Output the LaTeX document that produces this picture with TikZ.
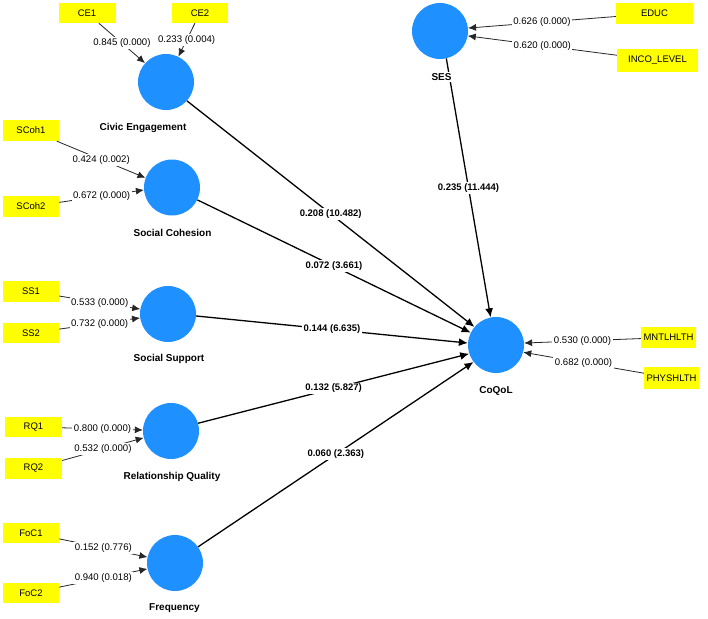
\documentclass[tikz,border=0pt]{standalone}
\usepackage{fontspec}
\setmainfont{Liberation Sans}
\usetikzlibrary{arrows.meta}
\definecolor{lvblue}{HTML}{1E90FF}
\definecolor{indyel}{HTML}{FFFF00}
\begin{document}
\begin{tikzpicture}[x=1pt,y=-1pt,
  lv/.style={circle,fill=lvblue,minimum size=56pt,inner sep=0pt},
  mv/.style={fill=indyel,minimum width=56pt,minimum height=20pt,inner sep=0pt,font=\fontsize{9.5}{11}\selectfont},
  lvlab/.style={font=\bfseries\fontsize{10}{12}\selectfont,fill=white,inner sep=1pt},
  ld/.style={draw=black!85,line width=0.8pt,-{Latex[length=8pt,width=7pt]}},
  pth/.style={draw=black,line width=1.3pt,-{Latex[length=9pt,width=8pt]}},
  ldlab/.style={font=\fontsize{9.6}{11}\selectfont,fill=white,inner sep=1.5pt},
  pthlab/.style={font=\bfseries\fontsize{9.5}{11}\selectfont,fill=white,inner sep=1.5pt}]
\fill[white] (0,0) rectangle (708,618);
\useasboundingbox (0,0) rectangle (708,618);

% latent variables
\node[lv] (ce) at (166,82) {};
\node[lv] (sc) at (172,187.5) {};
\node[lv] (ss) at (168,314) {};
\node[lv] (rq) at (171,431) {};
\node[lv] (fr) at (175,563) {};
\node[lv] (ses) at (440,31) {};
\node[lv] (cq) at (496,345) {};

% indicators
\node[mv,minimum width=57pt] (ce1) at (87,13) {CE1};
\node[mv] (ce2) at (200,13) {CE2};
\node[mv,minimum height=21pt] (sc1) at (31,130.5) {SCoh1};
\node[mv,minimum height=21pt] (sc2) at (31,206.5) {SCoh2};
\node[mv,minimum height=21pt] (ss1) at (31,291.5) {SS1};
\node[mv] (ss2) at (31,333) {SS2};
\node[mv,minimum width=57pt] (rq1) at (33.5,427) {RQ1};
\node[mv,minimum width=57pt,minimum height=21pt] (rq2) at (33.5,468.5) {RQ2};
\node[mv] (fc1) at (31,533) {FoC1};
\node[mv] (fc2) at (31,593) {FoC2};
\node[mv,minimum width=77pt,minimum height=21pt] (educ) at (654.5,13.5) {EDUC};
\node[mv,minimum width=81pt,minimum height=22pt] (inco) at (657.5,60.5) {INCO\_LEVEL};
\node[mv,minimum width=55pt,minimum height=21pt] (mh) at (668.5,337.5) {MNTLHLTH};
\node[mv,minimum width=55pt,minimum height=22pt] (ph) at (671.5,378) {PHYSHLTH};

% outer loadings
\draw[ld] (ce1) -- node[ldlab]{0.845 (0.000)} (ce.138);
\draw[ld] (ce2) -- node[ldlab]{0.233 (0.004)} (ce.64);
\draw[ld] (sc1) -- node[ldlab]{0.424 (0.002)} (sc.160);
\draw[ld] (sc2) -- node[ldlab]{0.672 (0.000)} (sc.185);
\draw[ld] (ss1) -- node[ldlab]{0.533 (0.000)} (ss.170);
\draw[ld] (ss2) -- node[ldlab]{0.732 (0.000)} (ss.188);
\draw[ld] (rq1) -- node[ldlab]{0.800 (0.000)} (rq.178);
\draw[ld] (rq2) -- node[ldlab]{0.532 (0.000)} (rq.194);
\draw[ld] (fc1) -- node[ldlab]{0.152 (0.776)} (fr.168);
\draw[ld] (fc2) -- node[ldlab]{0.940 (0.018)} (fr.192);
\draw[ld] (educ) -- node[ldlab]{0.626 (0.000)} (ses.6);
\draw[ld] (inco) -- node[ldlab]{0.620 (0.000)} (ses.350);
\draw[ld] (mh) -- node[ldlab]{0.530 (0.000)} (cq.4);
\draw[ld] (ph) -- node[ldlab]{0.682 (0.000)} (cq.345);

% structural paths
\draw[pth] (ce.318) -- node[pthlab]{0.208 (10.482)} (cq.140);
\draw[pth] (sc.334) -- node[pthlab]{0.072 (3.661)} (cq.154);
\draw[pth] (ss.356) -- node[pthlab]{0.144 (6.635)} (cq.176);
\draw[pth] (rq.16) -- node[pthlab]{0.132 (5.827)} (cq.198);
\draw[pth] (fr.35) -- node[pthlab]{0.060 (2.363)} (cq.217);
\draw[pth] (ses.283) -- node[pthlab]{0.235 (11.444)} (cq.101);

% latent variable labels
\node[lvlab] (celab) at (143,128) {Civic Engagement};
\node[lvlab] (sclab) at (172.5,233) {Social Cohesion};
\node[lvlab] (sslab) at (169,359) {Social Support};
\node[lvlab] (rqlab) at (172,477) {Relationship Quality};
\node[lvlab] (frlab) at (174.5,608) {Frequency};
\node[lvlab] (seslab) at (441.5,77) {SES};
\node[lvlab] (cqlab) at (496,391) {CoQoL};
\end{tikzpicture}
\end{document}
